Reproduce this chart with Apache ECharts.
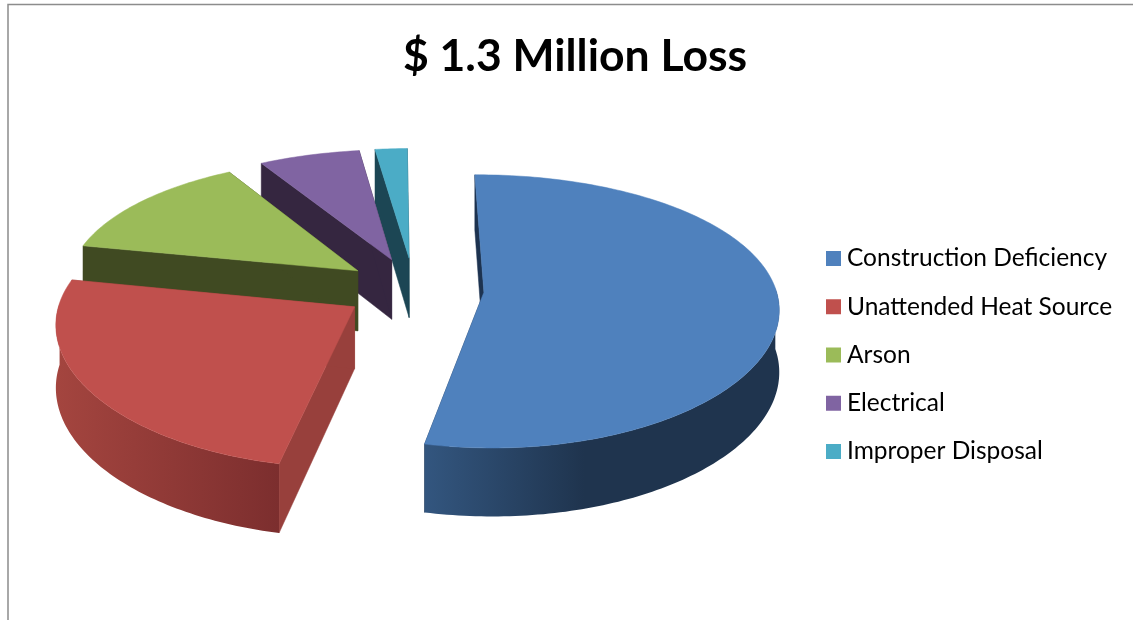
<!DOCTYPE html>
<html>
<head>
<meta charset="utf-8">
<style>html,body{margin:0;padding:0;background:#fff}#chart{width:1133px;height:620px}</style>
<script src="https://cdn.jsdelivr.net/npm/echarts@6/dist/echarts.min.js"></script>
</head>
<body>
<div id="chart"></div>
<script>
// Share of the loss by cause, in percent.
const categories = ['Construction Deficiency', 'Unattended Heat Source', 'Arson', 'Electrical', 'Improper Disposal'];
const lossShare = [53.45, 24.9, 13.35, 6.3, 2.0];
const chartTitle = '$ 1.3 Million Loss';

const topColors = ['#4f81bd', '#c0504d', '#9bbb59', '#8064a2', '#4bacc6'];
const cutColors = ['#1d3350', '#98403c', '#404a22', '#352640', '#1c4654'];
const rimColors = [['#33567f', '#1f344e'], ['#a4453f', '#7c2e2e'], ['#5b6e30', '#404a22'], ['#4a3663', '#352640'], ['#205a6c', '#1c4654']];

// Projection of the tilted pie: plane units to pixels with a mild perspective.
const view = { cx: 414, cy: 289, rx: 292, ry: 133, perspX: 0.107, perspY: 0.14, height: 61, explode: 0.24, start: -0.5 };

function project(px, py, drop) {
  const sx = 1 / (1 - view.perspX * py);
  const sy = 1 / (1 - view.perspY * py);
  return [view.cx + view.rx * px * sx, view.cy + view.ry * py * sy + (drop ? view.height * sx : 0)];
}

const total = lossShare.reduce((a, b) => a + b, 0);
const rad = (d) => d * Math.PI / 180;

function sliceAngles(index) {
  let before = 0;
  for (let i = 0; i < index; i++) before += lossShare[i];
  const a0 = view.start + before / total * 360;
  return [a0, a0 + lossShare[index] / total * 360];
}

function renderSlice(index, api) {
  const [a0, a1] = sliceAngles(index);
  const mid = rad((a0 + a1) / 2);
  const ox = view.explode * Math.sin(mid);
  const oy = -view.explode * Math.cos(mid);
  const rim = (deg, drop) => project(ox + Math.sin(rad(deg)), oy - Math.cos(rad(deg)), drop);
  const apex = (drop) => project(ox, oy, drop);

  const arc = [];
  const steps = Math.max(6, Math.ceil(a1 - a0));
  for (let i = 0; i <= steps; i++) arc.push(a0 + (a1 - a0) * i / steps);

  const children = [];
  const face = (points, fill) => children.push({
    type: 'polygon',
    shape: { points },
    style: { fill, stroke: fill, lineWidth: 0.5 }
  });

  // Cut faces first, then the outer wall, with the top surface last.
  face([apex(false), rim(a0, false), rim(a0, true), apex(true)], cutColors[index]);
  face([apex(false), rim(a1, false), rim(a1, true), apex(true)], cutColors[index]);

  const front = arc.filter((d) => d >= 88 && d <= 272);
  if (front.length > 1) {
    const upper = front.map((d) => rim(d, false));
    const lower = front.map((d) => rim(d, true));
    const xs = upper.map((p) => p[0]);
    const left = Math.min.apply(null, xs);
    const right = Math.max.apply(null, xs);
    const stops = index === 0
      ? [{ offset: 0, color: rimColors[index][0] }, { offset: 0.45, color: rimColors[index][1] }, { offset: 1, color: rimColors[index][1] }]
      : [{ offset: 0, color: rimColors[index][0] }, { offset: 1, color: rimColors[index][1] }];
    const fill = new echarts.graphic.LinearGradient(left, 0, right, 0, stops, true);
    children.push({
      type: 'polygon',
      shape: { points: upper.concat(lower.reverse()) },
      style: { fill }
    });
  }

  face([apex(false)].concat(arc.map((d) => rim(d, false))), topColors[index]);
  return { type: 'group', children };
}

const series = categories.map((name, i) => ({
  type: 'custom',
  name,
  coordinateSystem: 'none',
  z: 5 - i,
  silent: true,
  itemStyle: { color: topColors[i] },
  data: [lossShare[i]],
  renderItem: (params, api) => renderSlice(i, api)
}));

const chart = echarts.init(document.getElementById('chart'), null, { renderer: 'canvas' });
chart.setOption({
  animation: false,
  backgroundColor: '#ffffff',
  title: {
    text: chartTitle,
    left: 570,
    top: 29,
    textAlign: 'center',
    textStyle: { fontFamily: 'Lato', fontWeight: 'bold', fontSize: 44.5, color: '#000000' }
  },
  legend: {
    orient: 'vertical',
    left: 826,
    top: 246,
    padding: 0,
    icon: 'rect',
    itemWidth: 15,
    itemHeight: 15,
    itemGap: 23.25,
    selectedMode: false,
    data: categories,
    textStyle: { fontFamily: 'Lato', fontSize: 24.5, color: '#000000', padding: [0, 0, 0, 1] }
  },
  graphic: [{
    type: 'polyline',
    silent: true,
    shape: { points: [[8, 620], [8, 4.5], [1133, 4.5]] },
    style: { fill: null, stroke: '#8c8c8c', lineWidth: 1.5 }
  }],
  series
});
</script>
</body>
</html>
